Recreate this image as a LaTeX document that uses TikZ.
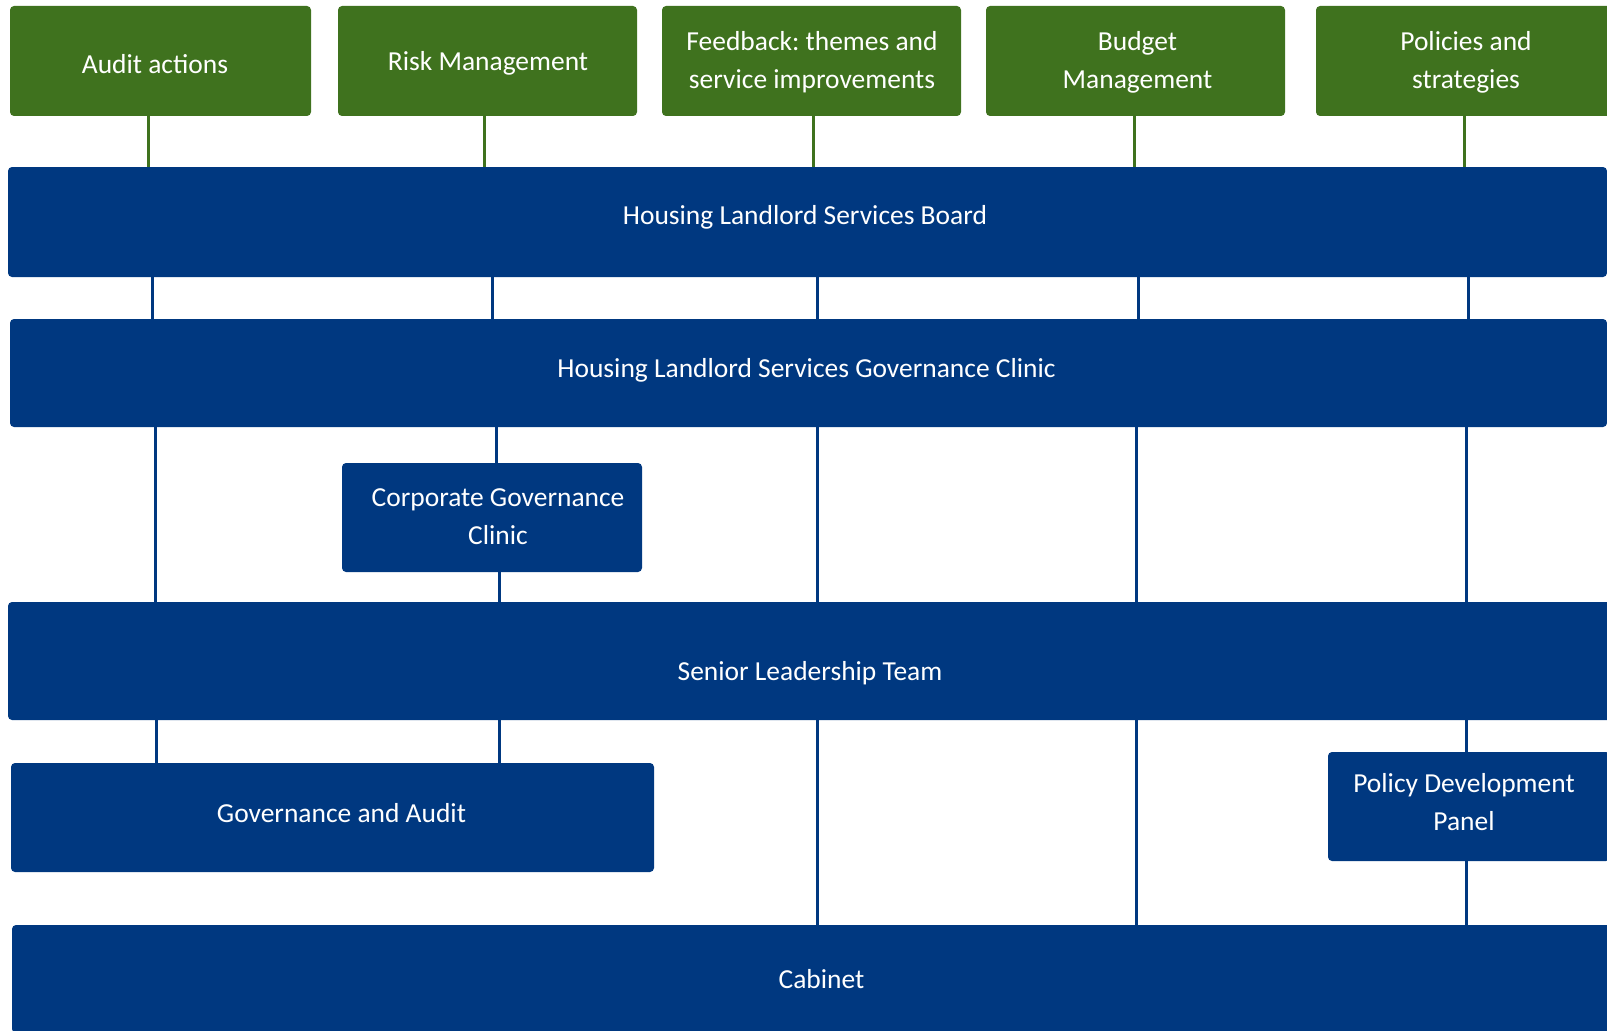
\documentclass[tikz,border=0pt]{standalone}
\usepackage{fontspec}
\setmainfont{Carlito}
\usetikzlibrary{fit}
\definecolor{hgreen}{RGB}{63,114,30}
\definecolor{hblue}{RGB}{0,56,128}
\frenchspacing
\begin{document}
\begin{tikzpicture}[x=0.75pt,y=-0.75pt,
  box/.style={rounded corners=3pt, inner sep=0pt},
  gbox/.style={box, fill=hgreen},
  bbox/.style={box, fill=hblue},
  txt/.style={inner sep=0pt, text=white, align=center,
              font=\fontsize{20.6}{28.5}\selectfont\frenchspacing},
  btxt/.style={txt, anchor=base},
  gline/.style={draw=hgreen, line width=2.25pt},
  bline/.style={draw=hblue, line width=2.25pt}]
\useasboundingbox (0,0) rectangle (1607,1031);
\clip (0,0) rectangle (1607,1031);
% top row (green)
\node[gbox, fit={(10,6) (311,116)}] (audit) {};
\node[gbox, fit={(338,6) (637,116)}] (risk) {};
\node[gbox, fit={(662,6) (961,116)}] (feed) {};
\node[gbox, fit={(986,6) (1285,116)}] (budget) {};
\node[gbox, fit={(1316,6) (1612,116)}] (policies) {};
% bands (blue)
\node[bbox, fit={(8,167) (1607,277)}] (board) {};
\node[bbox, fit={(10,319) (1607,427)}] (gclinic) {};
\node[bbox, fit={(342,463) (642,572)}] (cgc) {};
\node[bbox, fit={(8,602) (1612,720)}] (slt) {};
\node[bbox, fit={(11,763) (654,872)}] (ga) {};
\node[bbox, fit={(1328,752) (1610,861)}] (pdp) {};
\node[bbox, fit={(12,925) (1633,1033)}] (cabinet) {};
% texts
\node[btxt] (audit-t) at (155,74) {Audit actions};
\node[btxt] (risk-t) at (488,71) {Risk Management};
\node[txt] (feed-t) at (812,62.3) {Feedback: themes and\\service improvements};
\node[txt] (budget-t) at (1137.5,62.3) {Budget\\Management};
\node[txt] (policies-t) at (1466,62.3) {Policies and\\strategies};
\node[btxt] (board-t) at (805,224) {Housing Landlord Services Board};
\node[btxt] (gclinic-t) at (806.5,377) {Housing Landlord Services Governance Clinic};
\node[txt] (cgc-t) at (498,516.3) {Corporate Governance\\Clinic};
\node[btxt] (slt-t) at (810,680) {Senior Leadership Team};
\node[btxt] (ga-t) at (341.5,822) {Governance and Audit};
\node[txt] (pdp-t) at (1464,802.3) {Policy Development\\Panel};
\node[btxt] (cabinet-t) at (821.5,988) {Cabinet};
% helper x positions
\foreach \n/\x in {g1/148,g2/484,g3/813,g4/1134,g5/1464,
                   a1/152,a2/492,a3/817,a4/1138,a5/1468,
                   b1/155,b2/496,b3/499,b4/1136,b5/1466,
                   c1/156}
  \coordinate (\n) at (\x,0);
% green connectors
\draw[gline] (g1 |- audit.south) -- (g1 |- board.north);
\draw[gline] (g2 |- risk.south) -- (g2 |- board.north);
\draw[gline] (g3 |- feed.south) -- (g3 |- board.north);
\draw[gline] (g4 |- budget.south) -- (g4 |- board.north);
\draw[gline] (g5 |- policies.south) -- (g5 |- board.north);
% board -> governance clinic
\draw[bline] (a1 |- board.south) -- (a1 |- gclinic.north);
\draw[bline] (a2 |- board.south) -- (a2 |- gclinic.north);
\draw[bline] (a3 |- board.south) -- (a3 |- gclinic.north);
\draw[bline] (a4 |- board.south) -- (a4 |- gclinic.north);
\draw[bline] (a5 |- board.south) -- (a5 |- gclinic.north);
% governance clinic -> SLT / CGC
\draw[bline] (b1 |- gclinic.south) -- (b1 |- slt.north);
\draw[bline] (b2 |- gclinic.south) -- (b2 |- cgc.north);
\draw[bline] (b3 |- cgc.south) -- (b3 |- slt.north);
\draw[bline] (a3 |- gclinic.south) -- (a3 |- slt.north);
\draw[bline] (b4 |- gclinic.south) -- (b4 |- slt.north);
\draw[bline] (b5 |- gclinic.south) -- (b5 |- slt.north);
% SLT -> below
\draw[bline] (c1 |- slt.south) -- (c1 |- ga.north);
\draw[bline] (b3 |- slt.south) -- (b3 |- ga.north);
\draw[bline] (a3 |- slt.south) -- (a3 |- cabinet.north);
\draw[bline] (b4 |- slt.south) -- (b4 |- cabinet.north);
\draw[bline] (b5 |- slt.south) -- (b5 |- pdp.north);
\draw[bline] (b5 |- pdp.south) -- (b5 |- cabinet.north);
\end{tikzpicture}
\end{document}
